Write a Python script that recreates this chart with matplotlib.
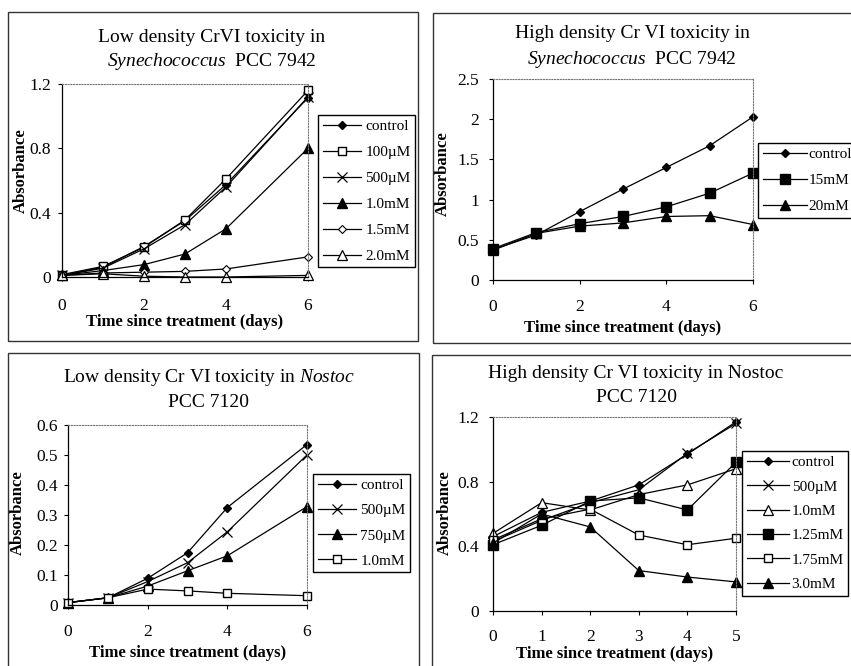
import matplotlib
matplotlib.use('Agg')
import matplotlib.pyplot as plt
from matplotlib.patches import Rectangle

plt.rcParams['font.family'] = ['Liberation Serif', 'DejaVu Serif']
plt.rcParams['mathtext.fontset'] = 'custom'
plt.rcParams['mathtext.rm'] = 'Liberation Serif'
plt.rcParams['mathtext.it'] = 'Liberation Serif:italic'

W, H = 851, 666

# --- data ---
# low density Synechococcus
days_a = [0, 1, 2, 3, 4, 6]
labels_a = ['control', '100µM', '500µM', '1.0mM', '1.5mM', '2.0mM']
control_a = [0.01, 0.06, 0.19, 0.35, 0.575, 1.115]
um100_a = [0.015, 0.066, 0.185, 0.355, 0.61, 1.16]
um500_a = [0.01, 0.055, 0.175, 0.325, 0.56, 1.12]
mm10_a = [0.01, 0.04, 0.077, 0.143, 0.30, 0.80]
mm15_a = [0.01, 0.025, 0.03, 0.035, 0.05, 0.125]
mm20_a = [0.01, 0.02, 0.005, 0.0, 0.0, 0.01]

# high density Synechococcus
days_b = [0, 1, 2, 3, 4, 5, 6]
labels_b = ['control', '15mM', '20mM']
control_b = [0.38, 0.56, 0.85, 1.13, 1.40, 1.67, 2.03]
mm15_b = [0.39, 0.59, 0.70, 0.79, 0.91, 1.08, 1.33]
mm20_b = [0.37, 0.58, 0.67, 0.71, 0.79, 0.80, 0.69]

# low density Nostoc
days_c = [0, 1, 2, 3, 4, 6]
labels_c = ['control', '500µM', '750µM', '1.0mM']
control_c = [0.008, 0.024, 0.089, 0.174, 0.325, 0.535]
um500_c = [0.008, 0.024, 0.078, 0.141, 0.244, 0.50]
um750_c = [0.008, 0.024, 0.063, 0.114, 0.164, 0.328]
mm10_c = [0.008, 0.024, 0.053, 0.047, 0.039, 0.031]

# high density Nostoc
days_d = [0, 1, 2, 3, 4, 5]
labels_d = ['control', '500µM', '1.0mM', '1.25mM', '1.75mM', '3.0mM']
control_d = [0.46, 0.61, 0.68, 0.78, 0.97, 1.17]
um500_d = [0.43, 0.56, 0.67, 0.75, 0.975, 1.16]
mm10_d = [0.48, 0.67, 0.625, 0.72, 0.78, 0.88]
mm125_d = [0.41, 0.53, 0.68, 0.70, 0.625, 0.92]
mm175_d = [0.44, 0.57, 0.63, 0.47, 0.41, 0.45]
mm30_d = [0.42, 0.60, 0.52, 0.25, 0.21, 0.18]

# marker styles (Excel look)
DIAM = dict(marker='D', ms=4.5, mfc='black', mec='black')
OSQ = dict(marker='s', ms=6, mfc='white', mec='black', mew=1)
XM = dict(marker='x', ms=7, mec='black', mew=0.9)
FTRI = dict(marker='^', ms=7, mfc='black', mec='black')
ODIAM = dict(marker='D', ms=4.5, mfc='white', mec='black', mew=0.8)
OTRI = dict(marker='^', ms=7, mfc='white', mec='black', mew=0.9)
FSQ = dict(marker='s', ms=7, mfc='black', mec='black')


def px_rect(l, t, r, b):
    return [l / W, 1 - b / H, (r - l) / W, (b - t) / H]


def panel(fig, box, days, series, labels, styles, ymax, yticks, yticklabels,
          xticks, leg, xpad, ypad, xlab_y, ylab_xy, hl=2.5, htp=0.3, lsp=0.8):
    l, t, r, b = box
    ax = fig.add_axes(px_rect(l, t, r, b))
    for vals, lab, st in zip(series, labels, styles):
        ax.plot(days, vals, color='black', lw=0.9, label=lab, clip_on=False, **st)
    ax.set_xlim(0, days[-1])
    ax.set_ylim(0, ymax)
    ax.set_xticks(xticks)
    ax.set_yticks(yticks)
    ax.set_yticklabels(yticklabels)
    for s in ['top', 'right']:
        ax.spines[s].set_linestyle((0, (1, 1.5)))
        ax.spines[s].set_color('#777777')
        ax.spines[s].set_linewidth(0.8)
    for s in ['left', 'bottom']:
        ax.spines[s].set_linewidth(0.9)
    ax.tick_params(axis='x', direction='out', length=3, pad=xpad, labelsize=12.5)
    ax.tick_params(axis='y', direction='out', length=3, pad=ypad, labelsize=12.5)
    ax.set_xlabel('Time since treatment (days)', fontweight='bold', fontsize=12, va='center')
    ax.set_ylabel('Absorbance', fontweight='bold', fontsize=12, va='center')
    ax.xaxis.set_label_coords(0.5, -(xlab_y - b) / (b - t))
    yx, yy = ylab_xy
    ax.yaxis.set_label_coords(-(l - yx) / (r - l), (b - yy) / (b - t))
    ll, lt = leg
    ax.legend(loc='upper left', bbox_to_anchor=(ll / W, 1 - lt / H),
              bbox_transform=fig.transFigure, borderaxespad=0, frameon=True,
              fancybox=False, edgecolor='black', framealpha=1, fontsize=11,
              numpoints=1, handlelength=hl, handletextpad=htp, labelspacing=lsp,
              borderpad=0.3)
    return ax


fig = plt.figure(figsize=(W / 100, H / 100), dpi=100)

# panel frames
for (l, t, r, b) in [(8, 12, 418, 341), (433, 13, 870, 343),
                     (8, 353, 419, 680), (432, 355, 870, 680)]:
    fig.add_artist(Rectangle((l / W, 1 - b / H), (r - l) / W, (b - t) / H,
                             transform=fig.transFigure, fill=False, lw=1.0,
                             ec='#333333'))

# top left
panel(fig, (62, 84, 308, 277), days_a,
      [control_a, um100_a, um500_a, mm10_a, mm15_a, mm20_a], labels_a,
      [DIAM, OSQ, XM, FTRI, ODIAM, OTRI], 1.2, [0, 0.4, 0.8, 1.2],
      ['0', '0.4', '0.8', '1.2'], [0, 2, 4, 6], (318, 115), 12, 5, 322, (21, 171))
fig.text(212 / W, 1 - 37 / H, 'Low density CrVI toxicity in', ha='center', va='center', fontsize=14)
fig.text(212 / W, 1 - 62 / H, r'$\mathit{Synechococcus}$  PCC 7942', ha='center', va='center', fontsize=14)

# top right
panel(fig, (493, 79, 753, 280), days_b, [control_b, mm15_b, mm20_b], labels_b,
      [DIAM, FSQ, FTRI], 2.5, [0, 0.5, 1, 1.5, 2, 2.5],
      ['0', '0.5', '1', '1.5', '2', '2.5'], [0, 2, 4, 6], (758, 143), 10.5, 7, 328, (443, 174),
      hl=2.9, htp=0.1)
fig.text(632 / W, 1 - 33 / H, 'High density Cr VI toxicity in', ha='center', va='center', fontsize=14)
fig.text(632 / W, 1 - 60 / H, r'$\mathit{Synechococcus}$  PCC 7942', ha='center', va='center', fontsize=14)

# bottom left
panel(fig, (68, 425, 307, 605), days_c, [control_c, um500_c, um750_c, mm10_c], labels_c,
      [DIAM, XM, FTRI, OSQ], 0.6, [0, 0.1, 0.2, 0.3, 0.4, 0.5, 0.6],
      ['0', '0.1', '0.2', '0.3', '0.4', '0.5', '0.6'], [0, 2, 4, 6], (313, 474), 11, 4, 653, (18, 513),
      lsp=0.75)
fig.text(209 / W, 1 - 378 / H, r'Low density Cr VI toxicity in $\mathit{Nostoc}$', ha='center', va='center', fontsize=14)
fig.text(209 / W, 1 - 402 / H, 'PCC 7120', ha='center', va='center', fontsize=14)

# bottom right
panel(fig, (493, 417, 736, 611), days_d,
      [control_d, um500_d, mm10_d, mm125_d, mm175_d, mm30_d], labels_d,
      [DIAM, XM, OTRI, FSQ, OSQ, FTRI], 1.2, [0, 0.4, 0.8, 1.2],
      ['0', '0.4', '0.8', '1.2'], [0, 1, 2, 3, 4, 5], (742, 451), 10, 7, 654, (445, 513),
      hl=2.8, htp=0.15, lsp=0.7)
fig.text(636 / W, 1 - 373 / H, 'High density Cr VI toxicity in Nostoc', ha='center', va='center', fontsize=14)
fig.text(636 / W, 1 - 398 / H, 'PCC 7120', ha='center', va='center', fontsize=14)

fig.savefig('out.png', dpi=100)
